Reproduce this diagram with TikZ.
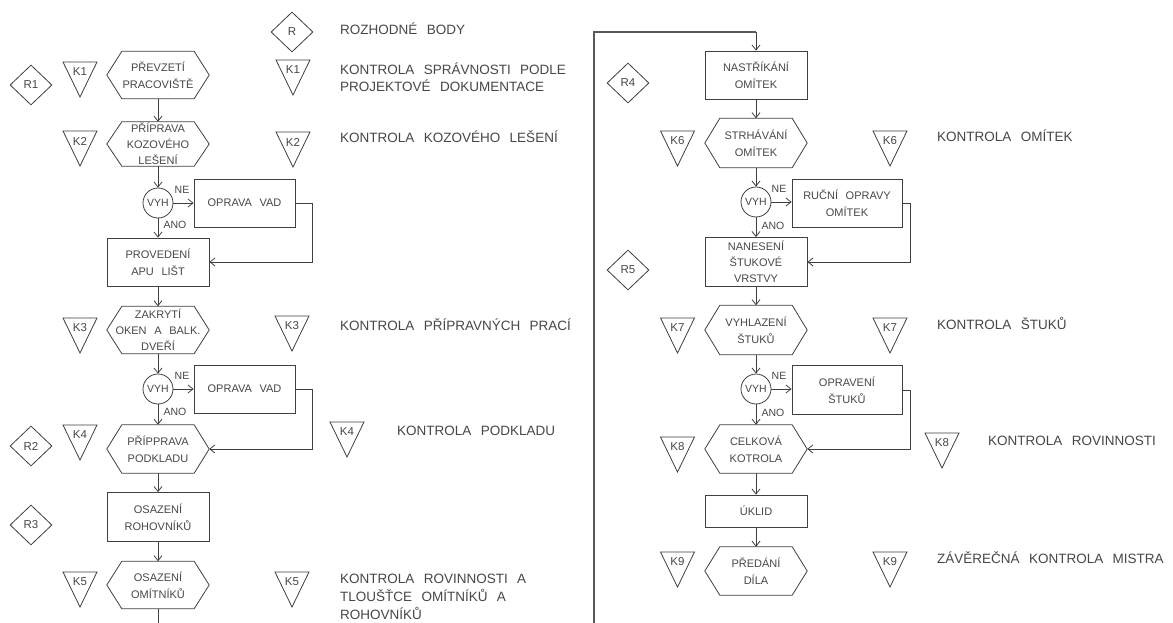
\documentclass[tikz,border=0pt]{standalone}
\usepackage{fontspec}
\setmainfont{Liberation Sans}[WordSpace=2.5]
\usetikzlibrary{shapes.geometric,arrows.meta}
\colorlet{lncol}{black!75}
\colorlet{txtcol}{black!72}
\newcommand{\hexoutline}[1]{\draw[ln] (#1.west) -- ([xshift=15pt]#1.north west) -- ([xshift=-15pt]#1.north east) -- (#1.east) -- ([xshift=-15pt]#1.south east) -- ([xshift=15pt]#1.south west) -- cycle;}
\newcommand{\ktri}[4]{\node[klab] (#1) at (#2,#3+10) {#4};
  \draw[ln] (#2-17,#3) -- (#2+17,#3) -- (#2,#3+35) -- cycle;}
\tikzset{
  ln/.style={draw=lncol, line width=0.8pt},
  arr/.style={ln, -{Straight Barb[length=5pt,width=8pt]}},
  boxn/.style={draw=lncol, line width=0.8pt, minimum width=102pt, minimum height=48pt, inner sep=0pt, align=center, font=\fontsize{11}{17}\selectfont, text=txtcol},
  hexn/.style={minimum width=102pt, minimum height=47pt, inner sep=0pt, align=center, font=\fontsize{11}{17}\selectfont, text=txtcol},
  vyh/.style={circle, draw=lncol, line width=0.8pt, minimum size=30pt, inner sep=0pt, font=\fontsize{10.5}{12}\selectfont, text=txtcol},
  rdiam/.style={diamond, draw=lncol, line width=0.8pt, minimum width=42pt, minimum height=40pt, inner sep=0pt, font=\fontsize{11.5}{12}\selectfont, text=txtcol},
  klab/.style={inner sep=0pt, font=\fontsize{11.5}{12}\selectfont, text=txtcol},
  small/.style={inner sep=0pt, font=\fontsize{10.5}{12}\selectfont, text=txtcol},
  legt/.style={anchor=base west, inner sep=0pt, align=left, font=\fontsize{13.5}{17}\selectfont, text=txtcol},
  bigln/.style={draw=black!65, line width=1.3pt}
}
\begin{document}
\begin{tikzpicture}[x=1pt,y=-1pt]
\useasboundingbox[fill=white] (0,0) rectangle (1173,623);

% ---------- legend ----------
\node[rdiam] (lr) at (292,32) {R};
\node[legt] (lrt) at (340,35) {ROZHODNÉ BODY};
\ktri{lk1}{293}{60}{K1}
\node[legt] (lk1t) at (340,92) {KONTROLA SPRÁVNOSTI PODLE\\PROJEKTOVÉ DOKUMENTACE};
\ktri{lk2}{293}{132}{K2}
\node[legt] (lk2t) at (340,143) {KONTROLA KOZOVÉHO LEŠENÍ};
\ktri{lk3}{292}{316}{K3}
\node[legt] (lk3t) at (340,330) {KONTROLA PŘÍPRAVNÝCH PRACÍ};
\ktri{lk4}{347}{422}{K4}
\node[legt] (lk4t) at (397,435) {KONTROLA PODKLADU};
\ktri{lk5}{292}{572}{K5}
\node[legt, font=\fontsize{13.5}{18}\selectfont] (lk5t) at (340,619) {KONTROLA ROVINNOSTI A\\TLOUŠŤCE OMÍTNÍKŮ A\\ROHOVNÍKŮ};
\ktri{lk6}{890}{131}{K6}
\node[legt] (lk6t) at (937,142) {KONTROLA OMÍTEK};
\ktri{lk7}{890}{318}{K7}
\node[legt] (lk7t) at (937,329) {KONTROLA ŠTUKŮ};
\ktri{lk8}{942}{433}{K8}
\node[legt] (lk8t) at (988,445) {KONTROLA ROVINNOSTI};
\ktri{lk9}{890}{552}{K9}
\node[legt] (lk9t) at (937,563) {ZÁVĚREČNÁ KONTROLA MISTRA};

% ---------- column 1 ----------
\node[rdiam] (r1) at (31,85) {R1};
\node[rdiam] (r2) at (31,446) {R2};
\node[rdiam] (r3) at (31,525) {R3};
\ktri{k1}{80}{62}{K1}
\ktri{k2}{80}{131}{K2}
\ktri{k3}{80}{318}{K3}
\ktri{k4}{80}{425}{K4}
\ktri{k5}{80}{572}{K5}

\node[hexn] (h1) at (158,75) {PŘEVZETÍ\\PRACOVIŠTĚ}; \hexoutline{h1}
\node[hexn, minimum height=44pt, font=\fontsize{11}{16}\selectfont] (h2) at (158,144) {PŘÍPRAVA\\KOZOVÉHO\\LEŠENÍ}; \hexoutline{h2}
\node[vyh] (c1) at (158,203) {VYH};
\node[boxn, minimum width=101pt] (b1) at (244.5,203) {OPRAVA VAD};
\node[boxn] (b2) at (158,262) {PROVEDENÍ\\APU LIŠT};
\node[hexn, font=\fontsize{11}{16}\selectfont] (h3) at (158,330) {ZAKRYTÍ\\OKEN A BALK.\\DVEŘÍ}; \hexoutline{h3}
\node[vyh] (c2) at (158,389) {VYH};
\node[boxn, minimum width=101pt] (b3) at (244.5,389) {OPRAVA VAD};
\node[hexn, minimum height=48pt] (h4) at (158,449) {PŘÍPPRAVA\\PODKLADU}; \hexoutline{h4}
\node[boxn, minimum height=49pt] (b4) at (158,517) {OSAZENÍ\\ROHOVNÍKŮ};
\node[hexn] (h5) at (158,585) {OSAZENÍ\\OMÍTNÍKŮ}; \hexoutline{h5}

\node[small] (ne1) at (182,190) {NE};
\node[small] (ano1) at (175,225) {ANO};
\node[small] (ne2) at (182,376) {NE};
\node[small] (ano2) at (175,412) {ANO};

\draw[arr] (h1.south) -- (h2.north);
\draw[arr] (h2.south) -- (c1.north);
\draw[arr] (c1.east) -- (b1.west);
\draw[arr] (c1.south) -- (b2.north);
\draw[arr] (b1.east) -- ++(17,0) |- (b2.east);
\draw[arr] (b2.south) -- (h3.north);
\draw[arr] (h3.south) -- (c2.north);
\draw[arr] (c2.east) -- (b3.west);
\draw[arr] (c2.south) -- (h4.north);
\draw[arr] (b3.east) -- ++(17,0) |- (h4.east);
\draw[arr] (h4.south) -- (b4.north);
\draw[arr] (b4.south) -- (h5.north);
\coordinate (e1) at (158,623);
\draw[ln] (h5.south) -- (e1);

% ---------- column 2 ----------
\coordinate (e2) at (594,623);
\coordinate (tp) at (594,32);
\node[boxn] (b5) at (756,75) {NASTŘÍKÁNÍ\\OMÍTEK};
\draw[bigln] (e2) -- (tp) -- (tp -| b5.north);
\draw[arr] (tp -| b5.north) -- (b5.north);

\node[rdiam] (r4) at (628,83) {R4};
\node[rdiam] (r5) at (628,270) {R5};
\ktri{k6}{677.5}{131}{K6}
\ktri{k7}{677.5}{318}{K7}
\ktri{k8}{677.5}{437}{K8}
\ktri{k9}{677.5}{552}{K9}

\node[hexn, minimum height=49pt] (h6) at (756,143) {STRHÁVÁNÍ\\OMÍTEK}; \hexoutline{h6}
\node[vyh] (c3) at (756,202) {VYH};
\node[boxn, minimum width=110pt] (b6) at (847,203) {RUČNÍ OPRAVY\\OMÍTEK};
\node[boxn, minimum height=49pt, font=\fontsize{11}{16}\selectfont] (b7) at (756,262) {NANESENÍ\\ŠTUKOVÉ\\VRSTVY};
\node[hexn, minimum height=49pt] (h7) at (756,330) {VYHLAZENÍ\\ŠTUKŮ}; \hexoutline{h7}
\node[vyh] (c4) at (756,389) {VYH};
\node[boxn, minimum width=110pt, minimum height=49pt] (b8) at (847,390) {OPRAVENÍ\\ŠTUKŮ};
\node[hexn, minimum height=48pt] (h8) at (756,449) {CELKOVÁ\\KOTROLA}; \hexoutline{h8}
\node[boxn, minimum height=32pt] (b9) at (756,511) {ÚKLID};
\node[hexn, minimum height=48pt] (h9) at (756,571) {PŘEDÁNÍ\\DÍLA}; \hexoutline{h9}

\node[small] (ne3) at (779,189) {NE};
\node[small] (ano3) at (773,226) {ANO};
\node[small] (ne4) at (779,376) {NE};
\node[small] (ano4) at (773,413) {ANO};

\draw[arr] (b5.south) -- (h6.north);
\draw[arr] (h6.south) -- (c3.north);
\draw[arr] (c3.east) -- (b6.west |- c3.east);
\draw[arr] (c3.south) -- (b7.north);
\draw[arr] (b6.east) -- ++(8,0) |- (b7.east);
\draw[arr] (b7.south) -- (h7.north);
\draw[arr] (h7.south) -- (c4.north);
\draw[arr] (c4.east) -- (b8.west |- c4.east);
\draw[arr] (c4.south) -- (h8.north);
\draw[arr] (b8.east) -- ++(8,0) |- (h8.east);
\draw[arr] (h8.south) -- (b9.north);
\draw[arr] (b9.south) -- (h9.north);
\end{tikzpicture}
\end{document}
